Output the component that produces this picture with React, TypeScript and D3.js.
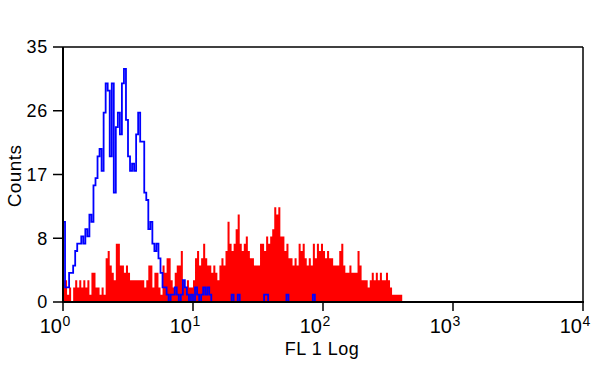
import React from "react";
import * as d3 from "d3";

// Histogram channels: 256 channels spanning 4 log decades (10^0 .. 10^4)
const CHANNELS = 256;

// Red filled histogram (stained sample), counts per channel from channel 0
const redCounts = [
  3, 3, 1, 2, 0, 2, 3, 2, 3, 2, 3, 2, 3, 1, 4, 4, 2, 2, 1, 2,
  1, 6, 7, 5, 4, 3, 8, 8, 5, 5, 4, 5, 4, 3, 3, 3, 3, 3, 3, 3,
  2, 3, 5, 5, 2, 4, 4, 2, 1, 5, 4, 6, 6, 3, 2, 4, 5, 5, 7, 3,
  2, 3, 2, 2, 3, 6, 7, 5, 6, 8, 6, 5, 5, 4, 5, 4, 3, 5, 6, 5,
  7, 11, 8, 7, 8, 10, 12, 8, 7, 8, 9, 7, 6, 6, 5, 5, 5, 8, 8, 7,
  9, 8, 9, 10, 13, 12, 13, 9, 9, 7, 8, 6, 6, 5, 6, 5, 8, 7, 8, 6,
  5, 6, 5, 8, 6, 8, 7, 8, 7, 6, 7, 6, 6, 5, 5, 5, 7, 8, 5, 4,
  4, 5, 4, 4, 4, 7, 5, 3, 3, 3, 2, 3, 4, 3, 4, 3, 4, 3, 3, 4,
  3, 2, 1, 1, 1, 1, 1, 0,
];

// Blue outline histogram (control), counts per channel from channel 0
const blueCounts = [
  11, 2, 2, 4, 4, 5, 7, 8, 8, 9, 8, 10, 9, 12, 11, 16, 17, 20, 21, 18,
  26, 30, 29, 20, 30, 15, 24, 26, 23, 30, 32, 25, 20, 18, 19, 18, 23, 26, 22, 22,
  15, 14, 10, 11, 8, 7, 8, 6, 4, 2, 2, 1, 0, 1, 1, 2, 1, 0, 1, 3,
  2, 1, 0, 1, 0, 2, 1, 0, 1, 2, 1, 2, 1, 0, 0, 0, 0, 0, 0, 0,
  0, 0, 0, 1, 0, 0, 1, 0, 0, 0, 0, 0, 0, 0, 0, 0, 0, 0, 0, 1,
  1, 0, 0, 0, 0, 0, 0, 0, 0, 0, 1, 0, 0, 0, 0, 0, 0, 0, 0, 0,
  0, 0, 0, 1, 0, 0,
];

const yTickValues = [0, 8.75, 17.5, 26.25, 35];
const yTickLabels = ["0", "8", "17", "26", "35"];
const xTickValues = [1, 10, 100, 1000, 10000];
const xTickExponents = ["0", "1", "2", "3", "4"];
const xTitle = "FL 1 Log";
const yTitle = "Counts";

const W = 600;
const H = 368;
const L = 63;
const R = 583;
const T = 47;
const B = 302;

export default function App() {
  const x = d3.scaleLog().domain([1, 10000]).range([L, R]);
  const y = d3.scaleLinear().domain([0, 35]).range([B, T]);
  const edge = (i: number) => Math.pow(10, (4 * i) / CHANNELS);

  const redPts: [number, number][] = redCounts.map((v, i) => [edge(i), v]);
  redPts.push([edge(redCounts.length), 0]);
  const area = d3
    .area<[number, number]>()
    .x((d) => x(d[0]))
    .y0(y(0))
    .y1((d) => y(d[1]))
    .curve(d3.curveStepAfter);

  const bluePts: [number, number][] = blueCounts.map((v, i) => [edge(i), v]);
  bluePts.push([edge(blueCounts.length), 0]);
  const line = d3
    .line<[number, number]>()
    .x((d) => x(d[0]))
    .y((d) => y(d[1]))
    .curve(d3.curveStepAfter);

  const font = "'Liberation Sans', Arial, sans-serif";

  return (
    <svg
      width={W}
      height={H}
      style={{ position: "absolute", left: 0, top: 0, background: "#fff" }}
    >
      <path d={area(redPts) || ""} fill="#ff0000" stroke="none" />
      <path
        d={line(bluePts) || ""}
        fill="none"
        stroke="#0000ff"
        strokeWidth={1.8}
      />
      {/* frame */}
      <line x1={L} x2={R} y1={T} y2={T} stroke="#000" strokeWidth={1.5} />
      <line x1={R} x2={R} y1={T} y2={B} stroke="#000" strokeWidth={1.5} />
      <line x1={L} x2={L} y1={T} y2={B + 1} stroke="#000" strokeWidth={2} />
      <line x1={L - 1} x2={R + 1} y1={B} y2={B} stroke="#000" strokeWidth={2} />
      {/* y ticks */}
      {yTickValues.map((v, i) => (
        <g key={"y" + i}>
          <line x1={L - 10} x2={L} y1={y(v)} y2={y(v)} stroke="#000" strokeWidth={1.5} />
          <text
            x={48}
            y={y(v)}
            dy="0.36em"
            textAnchor="end"
            fontFamily={font}
            fontSize={18}
            letterSpacing={0.8}
            fill="#000"
          >
            {yTickLabels[i]}
          </text>
        </g>
      ))}
      {/* x ticks */}
      {xTickValues.map((v, i) => (
        <g key={"x" + i}>
          <line x1={x(v)} x2={x(v)} y1={B} y2={B + 9} stroke="#000" strokeWidth={1.5} />
          <text
            x={x(v) - 1}
            y={333}
            textAnchor="end"
            fontFamily={font}
            fontSize={20}
            fill="#000"
          >
            10
          </text>
          <text
            x={x(v) - 0.5}
            y={326}
            textAnchor="start"
            fontFamily={font}
            fontSize={14}
            fill="#000"
          >
            {xTickExponents[i]}
          </text>
        </g>
      ))}
      <text
        x={322}
        y={355}
        textAnchor="middle"
        fontFamily={font}
        fontSize={18}
        letterSpacing={0.5}
        fill="#000"
      >
        {xTitle}
      </text>
      <text
        transform={`translate(21,176) rotate(-90)`}
        textAnchor="middle"
        fontFamily={font}
        fontSize={19}
        letterSpacing={0.4}
        fill="#000"
      >
        {yTitle}
      </text>
    </svg>
  );
}
